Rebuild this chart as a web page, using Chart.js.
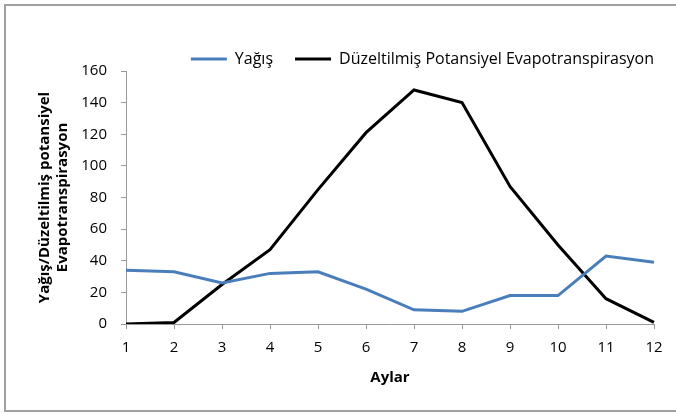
<!DOCTYPE html>
<html>
<head>
<meta charset="utf-8">
<script src="https://cdn.jsdelivr.net/npm/chart.js@4.4.0/dist/chart.umd.min.js"></script>
<style>
  html, body { margin: 0; padding: 0; background: #fff; }
</style>
</head>
<body>
<canvas id="chart" width="676" height="414"></canvas>
<script>
// data
const months = ["1", "2", "3", "4", "5", "6", "7", "8", "9", "10", "11", "12"];
const yagis = [34, 33, 26, 32, 33, 22, 9, 8, 18, 18, 43, 39];
const duzeltilmisPet = [0, 1, 25, 47, 85, 121, 148, 140, 87, 50, 16, 1];
const yMin = 0;
const yMax = 160;
const yStep = 20;

const axisGray = "#9a9a9a";
const fontFamily = "'Open Sans', 'Liberation Sans', sans-serif";

// keep the legend a fixed height so the plot area starts where it should
const legendHeight = {
  id: "legendHeight",
  beforeInit(chart) {
    const fit = chart.legend.fit;
    chart.legend.fit = function () {
      fit.call(this);
      this.height = 42;
    };
  }
};

// grey frame round the whole picture
const frame = {
  id: "frame",
  afterDraw(chart) {
    const ctx = chart.ctx;
    ctx.save();
    ctx.strokeStyle = "#a0a0a0";
    ctx.lineWidth = 2;
    ctx.strokeRect(5, 5, 700, 406);
    ctx.restore();
  }
};

const ctx = document.getElementById("chart").getContext("2d");
const chart = new Chart(ctx, {
  type: "line",
  data: {
    labels: months,
    datasets: [
      {
        label: "Yağış",
        data: yagis,
        borderColor: "#4a7ebb",
        backgroundColor: "#4a7ebb",
        borderWidth: 3,
        pointRadius: 0,
        tension: 0,
      },
      {
        label: "Düzeltilmiş Potansiyel Evapotranspirasyon",
        data: duzeltilmisPet,
        borderColor: "#000000",
        backgroundColor: "#000000",
        borderWidth: 3,
        pointRadius: 0,
        tension: 0,
      },
    ],
  },
  options: {
    responsive: false,
    animation: false,
    layout: {
      padding: { top: 29, left: 0, right: 0, bottom: 0 },
    },
    plugins: {
      tooltip: { enabled: false },
      legend: {
        position: "top",
        align: "end",
        labels: {
          usePointStyle: true,
          pointStyle: "line",
          pointStyleWidth: 36,
          padding: 22,
          color: "#000",
          font: { family: fontFamily, size: 16 },
        },
      },
    },
    scales: {
      x: {
        type: "category",
        offset: false,
        grid: {
          display: true,
          drawOnChartArea: false,
          drawTicks: true,
          tickLength: 5,
          color: axisGray,
        },
        border: { color: axisGray, width: 1 },
        ticks: {
          color: "#000",
          padding: 10,
          maxRotation: 0,
          autoSkip: false,
          font: { family: fontFamily, size: 15 },
        },
        title: {
          display: true,
          text: "Aylar",
          color: "#000",
          padding: { top: 0, bottom: 27 },
          font: { family: fontFamily, size: 15, weight: "bold", lineHeight: 1.2 },
        },
        afterFit(scale) {
          scale.height = 90;
        },
      },
      y: {
        min: yMin,
        max: yMax,
        grid: {
          display: true,
          drawOnChartArea: false,
          drawTicks: true,
          tickLength: 5,
          color: axisGray,
        },
        border: { color: axisGray, width: 1 },
        ticks: {
          stepSize: yStep,
          color: "#000",
          padding: 14,
          font: { family: fontFamily, size: 15 },
        },
        title: {
          display: true,
          text: ["Yağış/Düzeltilmiş potansiyel", "Evapotranspirasyon"],
          color: "#000",
          padding: { top: 36, bottom: 0 },
          font: { family: fontFamily, size: 15, weight: "bold", lineHeight: 1.2 },
        },
        afterFit(scale) {
          scale.width = 126;
        },
      },
      // empty axis on the right, only to leave the right margin
      yRight: {
        position: "right",
        display: true,
        grid: { display: false },
        border: { display: false },
        ticks: { display: false },
        afterFit(scale) {
          scale.width = 22;
        },
      },
    },
  },
  plugins: [legendHeight, frame],
});
</script>
</body>
</html>
